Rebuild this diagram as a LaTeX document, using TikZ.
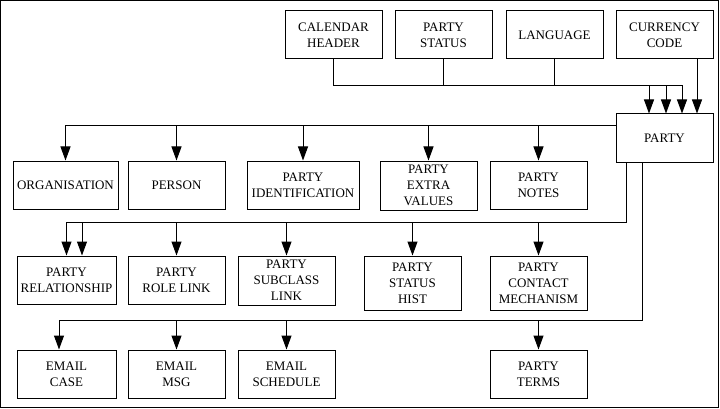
\documentclass[tikz,border=0pt]{standalone}
\usepackage{fontspec}
\setmainfont{Liberation Serif}
\usetikzlibrary{arrows.meta}

\begin{document}
\begin{tikzpicture}[x=1pt,y=-1pt,line width=1pt,
      tbl/.style={draw,inner sep=0pt,align=center,minimum width=97pt,minimum height=48pt,font=\fontsize{13}{16}\selectfont},
      link/.style={-{Triangle[width=10pt,length=14pt]}}]
      \useasboundingbox (0,0) rectangle (720,409);
      \draw (0.5,0.5) rectangle (718.5,407.5);
      \node[tbl] (cal) at (333.5,35) {CALENDAR\\HEADER};
      \node[tbl] (pstatus) at (443.5,35) {PARTY\\STATUS};
      \node[tbl] (lang) at (554.5,35) {LANGUAGE};
      \node[tbl] (curr) at (664.5,35) {CURRENCY\\CODE};
      \node[tbl] (party) at (664.5,138) {PARTY};
      \node[tbl,minimum width=105pt] (org) at (65.5,185) {ORGANISATION};
      \node[tbl] (person) at (176.5,185) {PERSON};
      \node[tbl,minimum width=112pt] (pident) at (303,185) {PARTY\\IDENTIFICATION};
      \node[tbl,minimum height=49pt] (pextra) at (428.5,185.5) {PARTY\\EXTRA\\VALUES};
      \node[tbl] (pnotes) at (538.5,185) {PARTY\\NOTES};
      \node[tbl,minimum width=99pt] (prel) at (66.5,280) {PARTY\\RELATIONSHIP};
      \node[tbl] (prole) at (176.5,280) {PARTY\\ROLE LINK};
      \node[tbl,minimum height=49pt] (psub) at (286.5,280.5) {PARTY\\SUBCLASS\\LINK};
      \node[tbl,minimum height=54pt] (pshist) at (412.5,283) {PARTY\\STATUS\\HIST};
      \node[tbl,minimum height=54pt] (pcontact) at (538.5,283) {PARTY\\CONTACT\\MECHANISM};
      \node[tbl,minimum width=99pt] (ecase) at (66.5,374) {EMAIL\\CASE};
      \node[tbl] (emsg) at (176.5,374) {EMAIL\\MSG};
      \node[tbl] (esched) at (286.5,374) {EMAIL\\SCHEDULE};
      \node[tbl] (pterms) at (538.5,374) {PARTY\\TERMS};
      \draw[link] (cal.south) -- ++(0,26) -| ([xshift=-15.5pt]party.north);
      \draw[link] (pstatus.south) -- ++(0,26) -| ([xshift=1.5pt]party.north);
      \draw[link] (lang.south) -- ++(0,26) -| ([xshift=17.5pt]party.north);
      \draw[link] ([xshift=32.5pt]curr.south) -- ([xshift=32.5pt]party.north);
      \draw[link] ([yshift=12pt]party.west) -| (org.north);
      \draw[link] ([yshift=12pt]party.west) -| (person.north);
      \draw[link] ([yshift=12pt]party.west) -| (pident.north);
      \draw[link] ([yshift=12pt]party.west) -| (pextra.north);
      \draw[link] ([yshift=12pt]party.west) -| (pnotes.north);
      \draw[link] ([xshift=-38.5pt]party.south) -- ++(0,60) -| (prel.north);
      \draw[link] ([xshift=-38.5pt]party.south) -- ++(0,60) -| ([xshift=15.5pt]prel.north);
      \draw[link] ([xshift=-38.5pt]party.south) -- ++(0,60) -| (prole.north);
      \draw[link] ([xshift=-38.5pt]party.south) -- ++(0,60) -| (psub.north);
      \draw[link] ([xshift=-38.5pt]party.south) -- ++(0,60) -| (pshist.north);
      \draw[link] ([xshift=-38.5pt]party.south) -- ++(0,60) -| (pcontact.north);
      \draw[link] ([xshift=-22.5pt]party.south) -- ++(0,158) -| ([xshift=-7.5pt]ecase.north);
      \draw[link] ([xshift=-22.5pt]party.south) -- ++(0,158) -| (emsg.north);
      \draw[link] ([xshift=-22.5pt]party.south) -- ++(0,158) -| (esched.north);
      \draw[link] ([xshift=-22.5pt]party.south) -- ++(0,158) -| (pterms.north);
\end{tikzpicture}
\end{document}
